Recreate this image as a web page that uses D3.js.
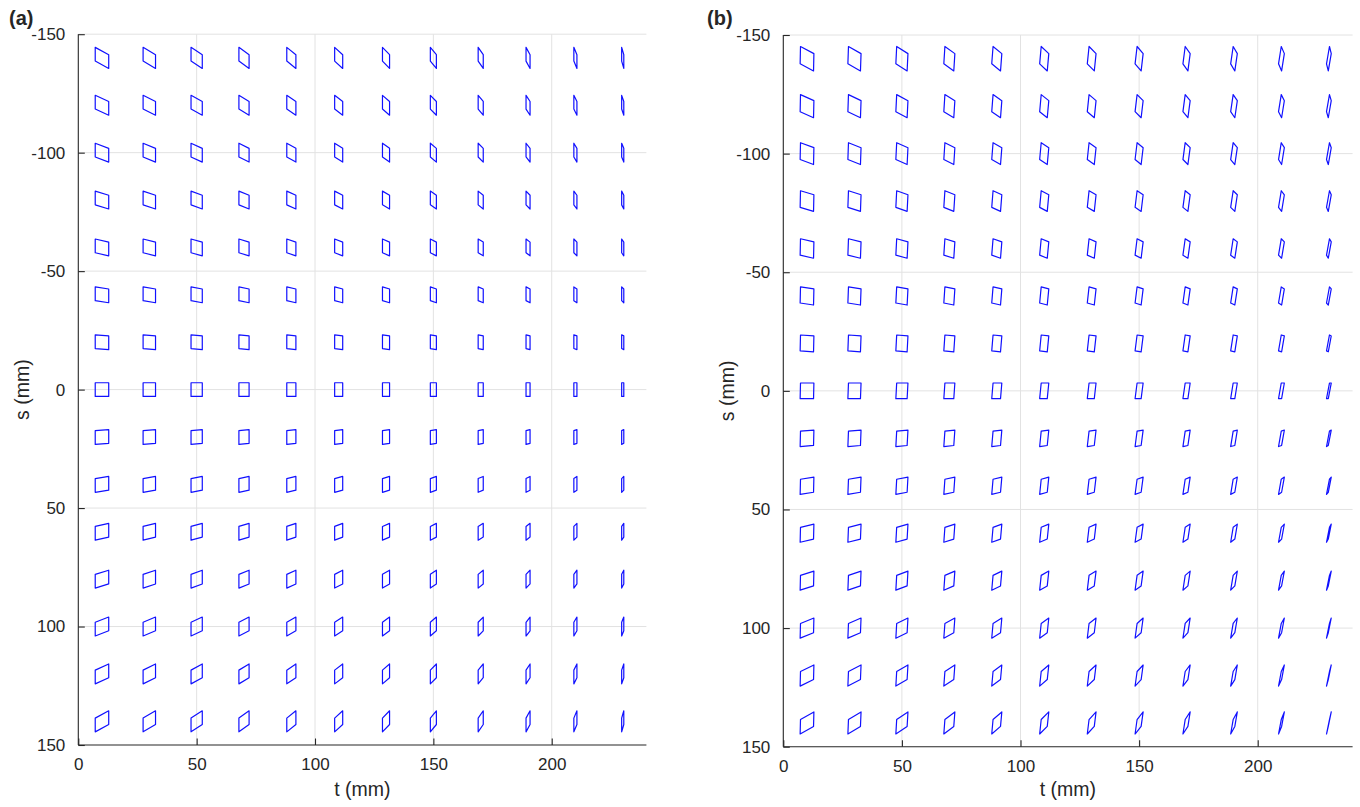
<!DOCTYPE html>
<html><head><meta charset="utf-8">
<script src="https://cdn.jsdelivr.net/npm/d3@7"></script>
<style>
html,body{margin:0;padding:0;background:#fff;}
svg text{font-family:"Liberation Sans",Arial,Helvetica,sans-serif;fill:#262626;}
</style></head>
<body>
<svg id="chart" width="1360" height="807"></svg>
<script>
// ---- data ----
const tCenters = [10, 30, 50, 70, 90, 110, 130, 150, 170, 190, 210, 230];
const sCenters = [-140, -120, -100, -80, -60, -40, -20, 0, 20, 40, 60, 80, 100, 120, 140];
const xTicks = [0, 50, 100, 150, 200];
const yTicks = [-150, -100, -50, 0, 50, 100, 150];
const panelLabels = ["(a)", "(b)"];

// panel (a): deformed element sizes (mm)
const aWidth  = [5.7, 5.25, 4.75, 4.3, 3.85, 3.4, 3.0, 2.55, 2.15, 1.7, 1.3, 0.9];     // per column
const aSkewT  = [0, 0, 0, 0, 0, 0, 0, 0, 0, 0, 0, 0];                                 // top shift vs bottom, per column
const aHeight = [5.8, 5.8, 5.8, 5.8, 5.8, 5.8, 5.8, 5.8, 5.8, 5.8, 5.8, 5.8, 5.8, 5.8, 5.8]; // per row
const aSkewS  = [3.1, 2.6, 2.15, 1.75, 1.3, 0.9, 0.45, 0, -0.45, -0.9, -1.3, -1.75, -2.2, -2.6, -3.1]; // right shift vs left, per row

// panel (b)
const bWidth  = [5.65, 5.3, 4.75, 4.2, 3.7, 3.2, 2.95, 2.55, 2.1, 1.75, 1.3, 0.75];
const bSkewT  = [0.15, 0.25, 0.35, 0.45, 0.55, 0.65, 0.75, 0.85, 0.95, 1.05, 1.15, 1.25];
const bHeight = [7.3, 7.2, 7.1, 7.0, 6.9, 6.8, 6.7, 6.6, 6.5, 6.4, 6.3, 6.25, 6.2, 6.15, 6.1];
const bSkewS  = [3.0, 2.55, 2.1, 1.7, 1.3, 0.85, 0.4, 0, -0.45, -0.9, -1.35, -1.8, -2.3, -2.75, -3.2];

// ---- drawing ----
const svg = d3.select("#chart");
const ink = "#262626";

function panel(cfg) {
  const x = d3.scaleLinear().domain([0, 240]).range([cfg.left, cfg.right]);
  const y = d3.scaleLinear().domain([-150, 150]).range([cfg.top, cfg.bottom]);
  const g = svg.append("g");

  // grid
  g.append("g").selectAll("line").data(xTicks.filter(d => d > 0)).join("line")
    .attr("x1", d => x(d)).attr("x2", d => x(d)).attr("y1", y(-150)).attr("y2", y(150))
    .attr("stroke", "#e2e2e2").attr("stroke-width", 1);
  g.append("g").selectAll("line").data(yTicks.filter(d => d < 150)).join("line")
    .attr("x1", x(0)).attr("x2", x(240)).attr("y1", d => y(d)).attr("y2", d => y(d))
    .attr("stroke", "#e2e2e2").attr("stroke-width", 1);

  // elements
  const cells = [];
  sCenters.forEach((s, i) => tCenters.forEach((t, j) => {
    const w = cfg.width[j], h = cfg.height[i], dx = cfg.skewT[j], dy = cfg.skewS[i];
    const pts = [[-1, -1], [1, -1], [1, 1], [-1, 1]].map(([a, b]) =>
      [t + a * w / 2 + b * dx / 2, s + a * dy / 2 - b * h / 2]);
    cells.push(pts);
  }));
  const line = d3.line().x(d => x(d[0])).y(d => y(d[1])).curve(d3.curveLinearClosed);
  g.append("g").selectAll("path").data(cells).join("path")
    .attr("d", line).attr("fill", "none").attr("stroke", "#1010ff")
    .attr("stroke-width", 1.2).attr("stroke-linejoin", "round");

  // axes
  const xAxis = d3.axisBottom(x).tickValues(xTicks).tickSize(-6.5).tickPadding(13).tickFormat(d3.format("d"));
  const yAxis = d3.axisLeft(y).tickValues(yTicks).tickSize(-6.5).tickPadding(13).tickFormat(d => d < 0 ? "-" + Math.abs(d) : d);
  const gx = g.append("g").attr("transform", `translate(0,${cfg.bottom})`).call(xAxis);
  const gy = g.append("g").attr("transform", `translate(${cfg.left},0)`).call(yAxis);
  [gx, gy].forEach(a => {
    a.select(".domain").attr("stroke", ink).attr("stroke-width", 1.1);
    a.selectAll(".tick line").attr("stroke", ink).attr("stroke-width", 1.1);
    a.selectAll(".tick text").attr("fill", ink).style("font-size", "17px")
      .style("font-family", '"Liberation Sans",Arial,sans-serif');
  });
  gx.select(".domain").attr("d", `M${cfg.left},0H${cfg.right}`);
  gy.select(".domain").attr("d", `M0,${cfg.top}V${cfg.bottom}`);

  g.append("text").attr("x", (cfg.left + cfg.right) / 2).attr("y", 796)
    .attr("text-anchor", "middle").style("font-size", "19.5px").text("t (mm)");
  g.append("text").attr("transform", `translate(${cfg.left - 49},${(cfg.top + cfg.bottom) / 2}) rotate(-90)`)
    .attr("text-anchor", "middle").style("font-size", "19.5px").text("s (mm)");
  g.append("text").attr("x", cfg.labelX).attr("y", 24.5).style("font-size", "20px")
    .style("font-weight", "bold").attr("fill", "#000").text(cfg.label);
}

panel({left: 78.3, right: 646.4, top: 34.2, bottom: 745, width: aWidth, height: aHeight, skewT: aSkewT, skewS: aSkewS, label: panelLabels[0], labelX: 9});
panel({left: 783.3, right: 1352.6, top: 35, bottom: 746.7, width: bWidth, height: bHeight, skewT: bSkewT, skewS: bSkewS, label: panelLabels[1], labelX: 707});
</script>
</body></html>
